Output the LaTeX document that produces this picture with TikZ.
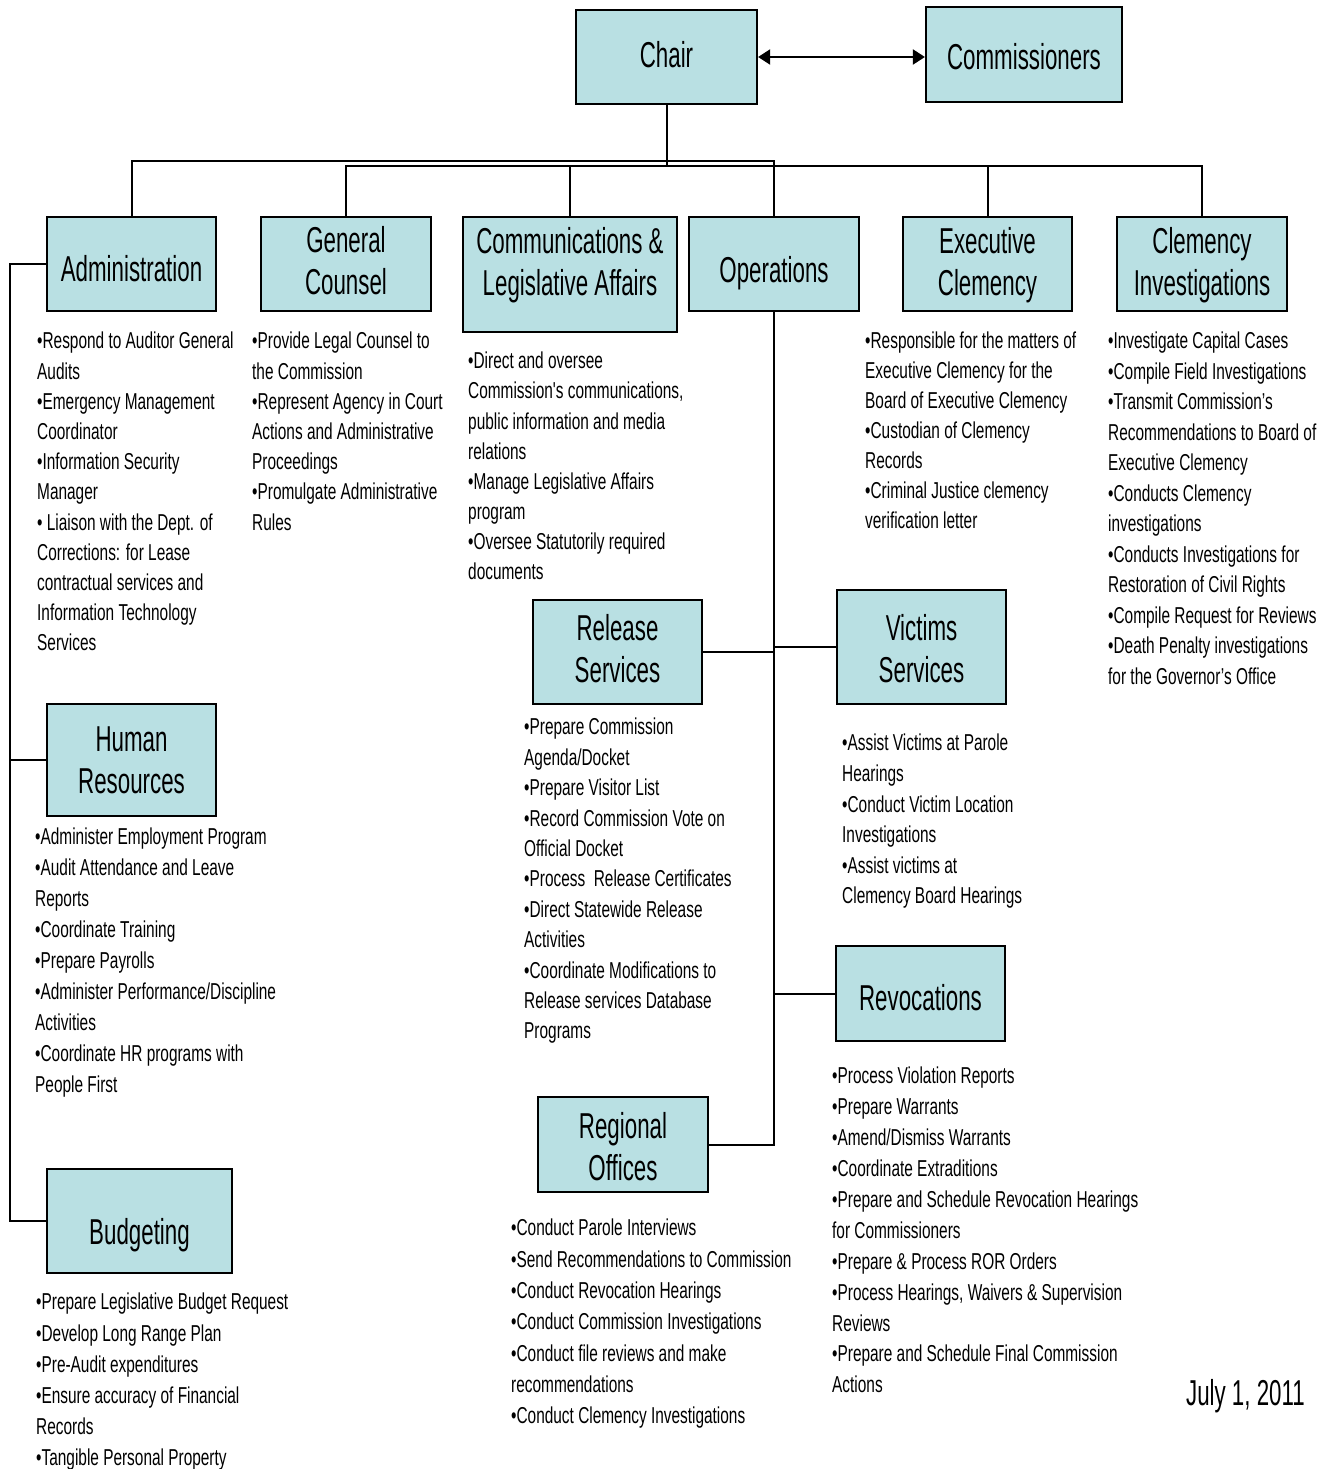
\documentclass[tikz,border=0pt]{standalone}
\usepackage{fontspec}
\setmainfont{Liberation Sans}
\newfontfamily\narrowbody[FakeStretch=0.67]{Liberation Sans}
\newfontfamily\narrowhead[FakeStretch=0.62]{Liberation Sans}
\usepackage{tikz}
\usetikzlibrary{arrows.meta}
\definecolor{unitfill}{RGB}{185,224,227}
\newcommand{\headfont}{\narrowhead\fontsize{36}{42}\selectfont}
\newcommand{\dutyfont}[1]{\narrowbody\fontsize{23}{#1}\selectfont}
\newcommand{\unittext}[2][0pt]{\raisebox{#1}[\height][\depth]{\begin{tabular}{@{}c@{}}#2\end{tabular}}}

\begin{document}
\begin{tikzpicture}[x=1pt, y=-1pt,
		unit/.style={draw, line width=2.2pt, fill=unitfill, inner sep=0pt, font=\headfont},
		duty/.style={anchor=north west, align=left, inner sep=0pt, font=\dutyfont{#1}},
		duty/.default=30.4,
		link/.style={line width=2pt}]
				\useasboundingbox (0,0) rectangle (1327,1469);
				\coordinate (busA) at (0,161);
				\coordinate (busB) at (0,166);
				\coordinate (spine) at (10,0);
				\node[unit, minimum width=181pt, minimum height=94pt] (chair) at (666.5,57) {\unittext[-2.5pt]{Chair}};
				\node[unit, minimum width=196pt, minimum height=95pt] (comm) at (1024,54.5) {\unittext[-7pt]{Commissioners}};
				\node[unit, minimum width=169pt, minimum height=94pt] (admin) at (131.5,264) {\unittext[-9pt]{Administration}};
				\node[unit, minimum width=170pt, minimum height=94pt] (counsel) at (346,264) {\unittext[-1.5pt]{General\\Counsel}};
				\node[unit, minimum width=214pt, minimum height=115pt] (commleg) at (570,274.5) {\unittext[8pt]{Communications \&\\Legislative Affairs}};
				\node[unit, minimum width=170pt, minimum height=94pt] (ops) at (774,264) {\unittext[-10.5pt]{Operations}};
				\node[unit, minimum width=169pt, minimum height=94pt] (exec) at (987.5,264) {\unittext[-2pt]{Executive\\Clemency}};
				\node[unit, minimum width=170pt, minimum height=94pt] (clinv) at (1202,264) {\unittext[-2pt]{Clemency\\Investigations}};
				\node[unit, minimum width=169pt, minimum height=112pt] (hr) at (131.5,760) {\unittext[-4pt]{Human\\Resources}};
				\node[unit, minimum width=185pt, minimum height=104pt] (budget) at (139.5,1221) {\unittext[-15pt]{Budgeting}};
				\node[unit, minimum width=169pt, minimum height=104pt] (release) at (617.5,652) {\unittext[-1.5pt]{Release\\Services}};
				\node[unit, minimum width=169pt, minimum height=114pt] (victims) at (921.5,647) {\unittext[-6pt]{Victims\\Services}};
				\node[unit, minimum width=169pt, minimum height=95pt] (revoc) at (920.5,993.5) {\unittext[-9pt]{Revocations}};
				\node[unit, minimum width=170pt, minimum height=95pt] (regional) at (623,1144.5) {\unittext[-7pt]{Regional\\Offices}};
				\draw[link, {Triangle[length=12pt,width=15pt]}-{Triangle[length=12pt,width=15pt]}] (chair.east) -- (chair.east -| comm.west);
				\draw[link] (admin.north) -- (admin.north |- busA) -- (ops.north |- busA) -- (ops.north);
				\draw[link] (counsel.north) -- (counsel.north |- busB) -- (clinv.north |- busB) -- (clinv.north);
				\foreach \u in {chair.south, commleg.north, exec.north} {
					\draw[link] (\u) -- (\u |- busB);
				}
				\draw[link] (ops.south) |- (regional.east);
				\foreach \u in {release, victims, revoc} {
					\draw[link] (\u) -- (\u -| ops.south);
				}
				\draw[link] (admin.west) -- (admin.west -| spine) -- (spine |- budget.west) -- (budget.west);
				\draw[link] (hr.west) -- (hr.west -| spine);
				\node[duty=30.2] (admintxt) at (37,332) {•Respond to Auditor General\\Audits\\•Emergency Management\\Coordinator\\•Information Security\\Manager\\• Liaison with the Dept. of\\Corrections: for Lease\\contractual services and\\Information Technology\\Services};
				\node[duty=30.2] (counseltxt) at (252,332) {•Provide Legal Counsel to\\the Commission\\•Represent Agency in Court\\Actions and Administrative\\Proceedings\\•Promulgate Administrative\\Rules};
				\node[duty=30.1] (commlegtxt) at (468,352) {•Direct and oversee\\Commission's communications,\\public information and media\\relations\\•Manage Legislative Affairs\\program\\•Oversee Statutorily required\\documents};
				\node[duty=30.0] (exectxt) at (865,332) {•Responsible for the matters of\\Executive Clemency for the\\Board of Executive Clemency\\•Custodian of Clemency\\Records\\•Criminal Justice clemency\\verification letter};
				\node[duty=30.5] (clinvtxt) at (1108,332) {•Investigate Capital Cases\\•Compile Field Investigations\\•Transmit Commission’s\\Recommendations to Board of\\Executive Clemency\\•Conducts Clemency\\investigations\\•Conducts Investigations for\\Restoration of Civil Rights\\•Compile Request for Reviews\\•Death Penalty investigations\\for the Governor’s Office};
				\node[duty=30.4] (releasetxt) at (524,718) {•Prepare Commission\\Agenda/Docket\\•Prepare Visitor List\\•Record Commission Vote on\\Official Docket\\•Process~ Release Certificates\\•Direct Statewide Release\\Activities\\•Coordinate Modifications to\\Release services Database\\Programs};
				\node[duty=30.6] (victimstxt) at (842,734) {•Assist Victims at Parole\\Hearings\\•Conduct Victim Location\\Investigations\\•Assist victims at\\Clemency Board Hearings};
				\node[duty=30.9] (hrtxt) at (35,828) {•Administer Employment Program\\•Audit Attendance and Leave\\Reports\\•Coordinate Training\\•Prepare Payrolls\\•Administer Performance/Discipline\\Activities\\•Coordinate HR programs with\\People First};
				\node[duty=30.9] (revoctxt) at (832,1067) {•Process Violation Reports\\•Prepare Warrants\\•Amend/Dismiss Warrants\\•Coordinate Extraditions\\•Prepare and Schedule Revocation Hearings\\for Commissioners\\•Prepare \& Process ROR Orders\\•Process Hearings, Waivers \& Supervision\\Reviews\\•Prepare and Schedule Final Commission\\Actions};
				\node[duty=31.3] (regionaltxt) at (511,1219) {•Conduct Parole Interviews\\•Send Recommendations to Commission\\•Conduct Revocation Hearings\\•Conduct Commission Investigations\\•Conduct file reviews and make\\recommendations\\•Conduct Clemency Investigations};
				\node[duty=31.2] (budgettxt) at (36,1293) {•Prepare Legislative Budget Request\\•Develop Long Range Plan\\•Pre-Audit expenditures\\•Ensure accuracy of Financial\\Records\\•Tangible Personal Property};
				\node[font=\headfont, anchor=base east, inner sep=0pt] (date) at (1305,1405) {July 1, 2011};
\end{tikzpicture}
\end{document}
